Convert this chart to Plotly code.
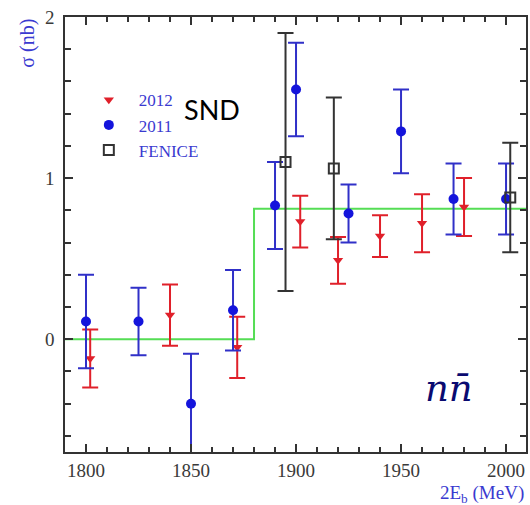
import plotly.graph_objects as go

# SND 2011
x2011 = [1800, 1825, 1850, 1870, 1890, 1900, 1925, 1950, 1975, 2000]
y2011 = [0.11, 0.11, -0.40, 0.18, 0.83, 1.55, 0.78, 1.29, 0.87, 0.87]
e2011 = [0.29, 0.21, 0.31, 0.25, 0.27, 0.29, 0.18, 0.26, 0.22, 0.22]

# SND 2012
x2012 = [1802, 1840, 1872, 1902, 1920, 1940, 1960, 1980]
y2012 = [-0.12, 0.15, -0.05, 0.73, 0.49, 0.64, 0.72, 0.82]
e2012 = [0.18, 0.19, 0.19, 0.16, 0.145, 0.13, 0.18, 0.18]

# FENICE
xF = [1895, 1918, 2002]
yF = [1.10, 1.06, 0.88]
eF = [0.80, 0.44, 0.34]

# step fit
fit_x = [1790, 1880, 2010]
fit_y = [0.0, 0.81, 0.81]

BLUE = "#1414dc"
BLUE_ERR = "#3030c8"
RED = "#e0202a"
BLACK = "#333333"
GREEN = "#55dd55"
LABEL_BLUE = "#3a3ad0"

fig = go.Figure()

fig.add_trace(go.Scatter(x=fit_x, y=fit_y, mode="lines", line=dict(color=GREEN, width=2, shape="hv"),
                         showlegend=False, hoverinfo="skip"))

fig.add_trace(go.Scatter(
    x=x2012, y=y2012, mode="markers", name="2012",
    marker=dict(symbol="triangle-down", size=9, color=RED),
    error_y=dict(type="data", array=e2012, color=RED, thickness=2, width=8)))

fig.add_trace(go.Scatter(
    x=x2011, y=y2011, mode="markers", name="2011",
    marker=dict(symbol="circle", size=10, color=BLUE),
    error_y=dict(type="data", array=e2011, color=BLUE_ERR, thickness=2, width=8)))

fig.add_trace(go.Scatter(
    x=xF, y=yF, mode="markers", name="FENICE",
    marker=dict(symbol="square-open", size=10, color=BLACK, line=dict(width=2, color=BLACK)),
    error_y=dict(type="data", array=eF, color=BLACK, thickness=2, width=8)))

tickfont = dict(family="Liberation Serif", size=19, color="#3a3a3a")

fig.update_xaxes(
    range=[1790, 2009.5], tick0=1800, dtick=50, ticks="inside", ticklen=8, tickwidth=1.5,
    tickcolor="#333", showline=True, linecolor="#333", linewidth=1.5, mirror="allticks",
    showgrid=False, zeroline=False, tickfont=tickfont,
    minor=dict(dtick=10, ticks="inside", ticklen=5, tickcolor="#333", tickwidth=1.5, showgrid=False))
fig.update_yaxes(
    range=[-0.7, 2.0], tick0=0, dtick=1, ticks="inside", ticklen=8, tickwidth=1.5,
    tickcolor="#333", showline=True, linecolor="#333", linewidth=1.5, mirror="allticks",
    showgrid=False, zeroline=False, tickfont=tickfont, ticklabelstandoff=5,
    minor=dict(dtick=0.2, ticks="inside", ticklen=6, tickcolor="#333", tickwidth=1.5, showgrid=False))

fig.update_layout(
    width=530, height=505,
    margin=dict(l=65, r=2, t=17, b=53),
    paper_bgcolor="white", plot_bgcolor="white",
    showlegend=True,
    legend=dict(x=0.03, y=0.85, xanchor="left", yanchor="top", bgcolor="rgba(0,0,0,0)",
                font=dict(family="Liberation Serif", size=17, color=LABEL_BLUE),
                itemwidth=50, tracegroupgap=0),
    annotations=[
        dict(text="σ (nb)", xref="paper", yref="paper", x=-0.082, y=1.0, xanchor="center", yanchor="top",
             textangle=-90, showarrow=False,
             font=dict(family="Liberation Serif", size=20, color=LABEL_BLUE)),
        dict(text="2E<sub>b</sub> (MeV)", xref="paper", yref="paper", x=1.0, y=-0.065, xanchor="right",
             yanchor="top", showarrow=False,
             font=dict(family="Liberation Serif", size=19, color=LABEL_BLUE)),
        dict(text="SND", xref="paper", yref="paper", x=0.318, y=0.787, xanchor="center", yanchor="middle",
             showarrow=False, font=dict(family="Lato", size=27, color="black")),
        dict(text="<i>nn\u0304</i>", xref="paper", yref="paper", x=0.834, y=0.145, xanchor="center",
             yanchor="middle", showarrow=False,
             font=dict(family="DejaVu Serif", size=37, color="#0a0a70")),
    ],
)

fig.write_html("out.html")
